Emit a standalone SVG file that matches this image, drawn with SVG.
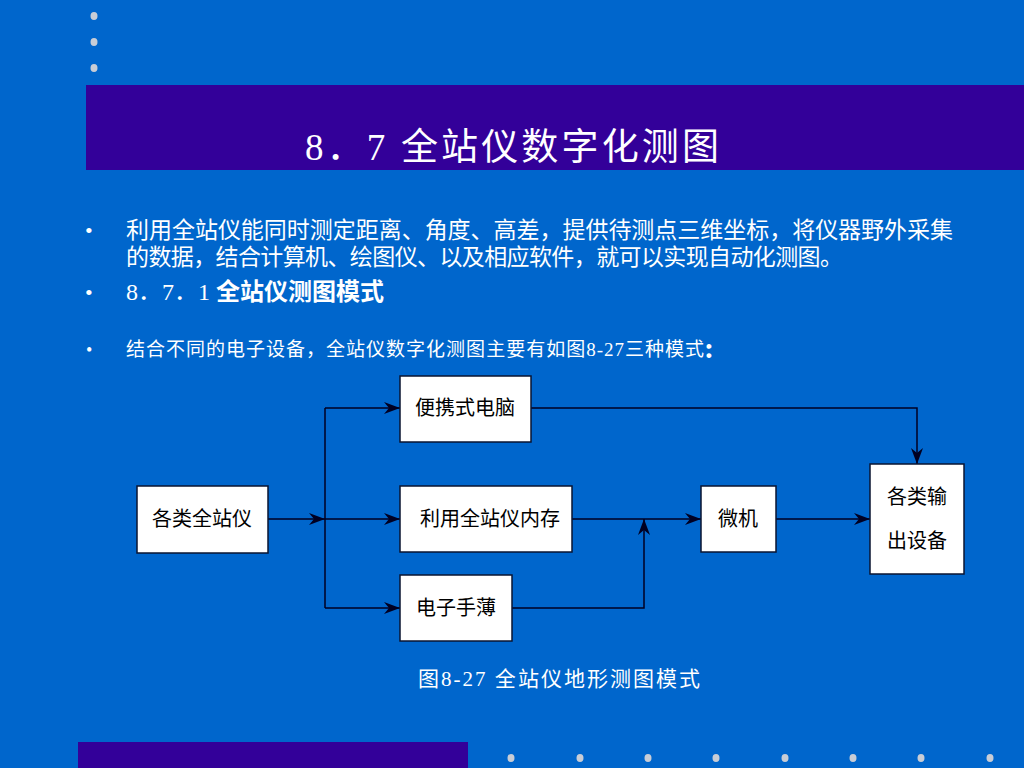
<svg xmlns="http://www.w3.org/2000/svg" width="1024" height="768" viewBox="0 0 1024 768">
<defs>
<style>
.t{font-family:"Liberation Serif","Noto Sans CJK SC",serif;fill:#ffffff}
.n{font-family:"Liberation Serif","Noto Sans CJK SC",serif;fill:#000000;font-size:20px;text-anchor:middle}
.box{fill:#ffffff;stroke:#0a1530;stroke-width:1.5}
.c{fill:none;stroke:#000022;stroke-width:1.5}
.dot{fill:#c8cdd6}
</style>
<marker id="ar" viewBox="0 0 16 12" markerWidth="16" markerHeight="12" refX="16" refY="6" orient="auto" markerUnits="userSpaceOnUse">
<path d="M0,0 L16,6 L0,12 L5,6 Z" fill="#000022"/>
</marker>
</defs>
<rect x="0" y="0" width="1024" height="768" fill="#0066cc"/>
<rect x="86" y="85" width="938" height="85" fill="#330099"/>
<rect x="78" y="742" width="390" height="26" fill="#330099"/>
<g id="dots">
<ellipse class="dot" cx="94" cy="16" rx="3.5" ry="4"/>
<ellipse class="dot" cx="94" cy="42" rx="3.5" ry="4"/>
<ellipse class="dot" cx="94" cy="68" rx="3.5" ry="4"/>
<ellipse class="dot" cx="511" cy="758" rx="3.5" ry="4"/>
<ellipse class="dot" cx="580" cy="758" rx="3.5" ry="4"/>
<ellipse class="dot" cx="648" cy="758" rx="3.5" ry="4"/>
<ellipse class="dot" cx="716" cy="758" rx="3.5" ry="4"/>
<ellipse class="dot" cx="785" cy="758" rx="3.5" ry="4"/>
<ellipse class="dot" cx="853" cy="758" rx="3.5" ry="4"/>
<ellipse class="dot" cx="921" cy="758" rx="3.5" ry="4"/>
<ellipse class="dot" cx="990" cy="758" rx="3.5" ry="4"/>
</g>
<text class="t" x="305" y="160" font-size="37" textLength="414">8．7 全站仪数字化测图</text>
<g id="bullets">
<text class="t" x="85" y="238" font-size="22">•</text>
<text class="t" x="126" y="238" font-size="23" textLength="827">利用全站仪能同时测定距离、角度、高差，提供待测点三维坐标，将仪器野外采集</text>
<text class="t" x="126" y="265" font-size="23" textLength="717">的数据，结合计算机、绘图仪、以及相应软件，就可以实现自动化测图。</text>
<text class="t" x="85" y="300" font-size="22">•</text>
<text class="t" x="126" y="300" font-size="24"><tspan>8．7．1 </tspan><tspan font-family="'Noto Sans CJK SC',sans-serif" font-weight="bold">全站仪测图模式</tspan></text>
<text class="t" x="86" y="356" font-size="18">•</text>
<text class="t" x="126" y="356" font-size="19" textLength="578">结合不同的电子设备，全站仪数字化测图主要有如图8-27三种模式</text>
<text class="t" x="704" y="358" font-size="30" font-weight="bold">:</text>
</g>
<g id="connectors">
<line class="c" x1="268" y1="519" x2="325" y2="519" marker-end="url(#ar)"/>
<line class="c" x1="325" y1="408" x2="325" y2="608"/>
<line class="c" x1="325" y1="408" x2="400" y2="408" marker-end="url(#ar)"/>
<line class="c" x1="325" y1="519" x2="400" y2="519" marker-end="url(#ar)"/>
<line class="c" x1="325" y1="608" x2="400" y2="608" marker-end="url(#ar)"/>
<polyline class="c" points="531,408 917,408 917,464" marker-end="url(#ar)"/>
<line class="c" x1="572" y1="519" x2="701" y2="519" marker-end="url(#ar)"/>
<polyline class="c" points="512,608 644,608 644,519" marker-end="url(#ar)"/>
<line class="c" x1="776" y1="519" x2="870" y2="519" marker-end="url(#ar)"/>
</g>
<g id="node-station">
<rect class="box" x="137" y="486" width="131" height="67"/>
<text class="n" x="202" y="526">各类全站仪</text>
</g>
<g id="node-laptop">
<rect class="box" x="400" y="376" width="131" height="66"/>
<text class="n" x="465" y="415">便携式电脑</text>
</g>
<g id="node-memory">
<rect class="box" x="400" y="486" width="172" height="66"/>
<text class="n" x="490" y="526">利用全站仪内存</text>
</g>
<g id="node-notebook">
<rect class="box" x="400" y="575" width="112" height="66"/>
<text class="n" x="456" y="615">电子手薄</text>
</g>
<g id="node-micro">
<rect class="box" x="701" y="486" width="75" height="66"/>
<text class="n" x="738" y="526">微机</text>
</g>
<g id="node-output">
<rect class="box" x="870" y="464" width="94" height="110"/>
<text class="n" x="917" y="504">各类输</text>
<text class="n" x="917" y="548">出设备</text>
</g>
<text class="t" x="418" y="686" font-size="21" textLength="282">图8-27  全站仪地形测图模式</text>
</svg>
